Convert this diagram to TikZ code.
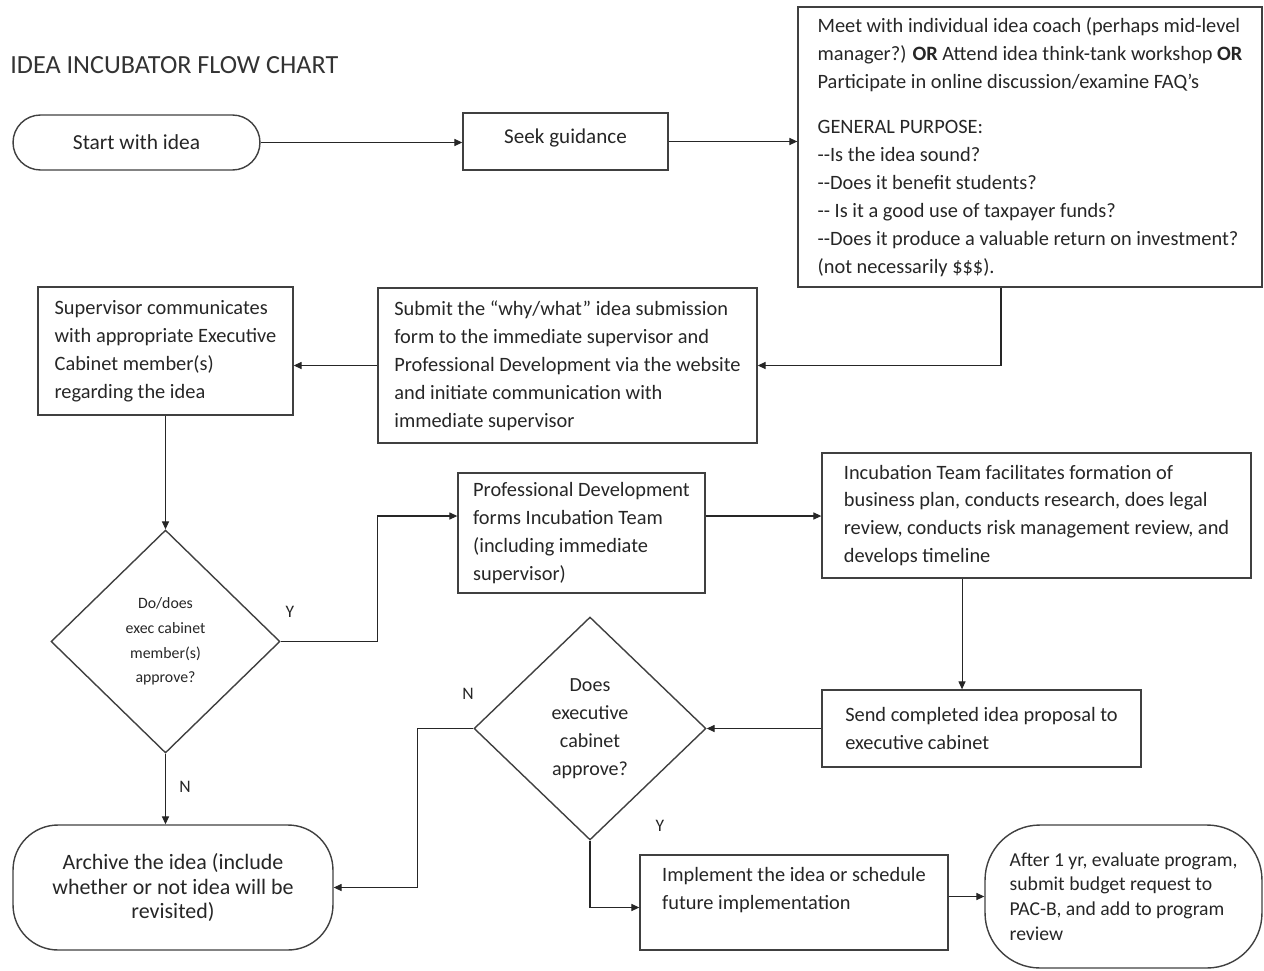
\documentclass[tikz,border=0pt]{standalone}
\usepackage{fontspec}
\setmainfont{Carlito}
\usetikzlibrary{shapes.geometric,arrows.meta}
\begin{document}
\begin{tikzpicture}[x=0.02cm,y=-0.02cm,
  base/.style={draw=black!75, line width=0.8pt, inner sep=0pt, text=black!85},
  box/.style={base, rectangle, align=left, font=\fontsize{11.6}{15.9}\selectfont},
  term/.style={base, rectangle, align=center, font=\fontsize{12.2}{15.9}\selectfont},
  decision/.style={base, diamond, aspect=1, align=center},
  lbl/.style={inner sep=0pt, text=black!85, font=\fontsize{10}{12}\selectfont},
  arr/.style={draw=black!85, line width=0.6pt, -{Triangle[length=4.5pt,width=4pt]}}
]
\useasboundingbox (0,0) rectangle (1264,970);

\node[anchor=west, inner sep=0pt, text=black!80, font=\fontsize{14.9}{18}\selectfont] (title) at (10,65) {IDEA INCUBATOR FLOW CHART};

\node[term, minimum width=4.94cm, minimum height=1.1cm, rounded corners=0.55cm] (start) at (136.5,142.5) {Start with idea};

\node[box, minimum width=4.1cm, minimum height=1.14cm, font=\fontsize{12}{15.9}\selectfont] (seek) at (565.5,141.5) {Seek guidance\\[-10pt]\mbox{}};

\node[box, minimum width=9.28cm, minimum height=5.6cm] (big) at (1030,147) {Meet with individual idea coach (perhaps mid-level\\ manager?) \textbf{OR} Attend idea think-tank workshop \textbf{OR}\\ Participate in online discussion/examine FAQ’s\\[10pt] GENERAL PURPOSE:\\ -{}-Is the idea sound?\\ -{}-Does it benefit students?\\ -{}- Is it a good use of taxpayer funds?\\ -{}-Does it produce a valuable return on investment?\\ (not necessarily \$\$\$).};

\node[box, minimum width=7.58cm, minimum height=3.1cm] (submit) at (567.5,365.5) {Submit the “why/what” idea submission\\ form to the immediate supervisor and\\ Professional Development via the website\\ and initiate communication with\\ immediate supervisor};

\node[box, minimum width=5.1cm, minimum height=2.56cm] (sup) at (165.5,351) {Supervisor communicates\\ with appropriate Executive\\ Cabinet member(s)\\ regarding the idea};

\node[decision, minimum width=4.58cm, minimum height=4.46cm, font=\fontsize{9}{14}\selectfont] (d1) at (165.5,641.5) {Do/does\\ exec cabinet\\ member(s)\\ approve?};

\node[box, minimum width=4.94cm, minimum height=2.4cm] (pd) at (581.5,533) {Professional Development\\ forms Incubation Team\\ (including immediate\\ supervisor)};

\node[box, minimum width=8.58cm, minimum height=2.5cm] (inc) at (1036.5,515.5) {Incubation Team facilitates formation of\\ business plan, conducts research, does legal\\ review, conducts risk management review, and\\ develops timeline};

\node[box, minimum width=6.38cm, minimum height=1.54cm] (send) at (981.5,728.5) {Send completed idea proposal to\\ executive cabinet};

\node[decision, minimum width=4.64cm, minimum height=4.46cm, font=\fontsize{11.4}{15.9}\selectfont] (d2) at (590,728.5) {Does\\ executive\\ cabinet\\ approve?};

\node[term, minimum width=6.4cm, minimum height=2.5cm, rounded corners=0.9cm, font=\fontsize{12.5}{14.2}\selectfont] (archive) at (173,887.5) {Archive the idea (include\\ whether or not idea will be\\ revisited)};

\node[box, minimum width=6.16cm, minimum height=1.9cm] (impl) at (794,902.5) {Implement the idea or schedule\\ future implementation\\ \mbox{}};

\node[base, rectangle, align=left, minimum width=5.54cm, minimum height=2.86cm, rounded corners=1.1cm, font=\fontsize{11.2}{14}\selectfont] (after) at (1123.5,896.5) {After 1 yr, evaluate program,\\ submit budget request to\\ PAC-B, and add to program\\ review};

\node[lbl] (y1) at (290,612) {Y};
\node[lbl] (n1) at (185,787) {N};
\node[lbl] (n2) at (468,694) {N};
\node[lbl] (y2) at (660,826) {Y};

\draw[arr] (start.east) -- (start.east -| seek.west);
\draw[arr] (seek.east) -- (seek.east -| big.west);
\draw[arr] ([xshift=-0.58cm]big.south) |- (submit.east);
\draw[arr] (submit.west) -- (submit.west -| sup.east);
\draw[arr] (sup.south) -- (d1.north);
\draw[arr] (d1.east) -- ++(1.94cm,0) |- ([yshift=0.34cm]pd.west);
\draw[arr] ([yshift=0.34cm]pd.east) -- ([yshift=0.34cm]pd.east -| inc.west);
\draw[arr] ([xshift=-1.49cm]inc.south) -- ([xshift=-1.49cm]inc.south |- send.north);
\draw[arr] (send.west) -- (d2.east);
\draw[arr] (d2.west) -- ++(-1.12cm,0) |- (archive.east);
\draw[arr] (d2.south) |- ([yshift=-0.1cm]impl.west);
\draw[arr] (after.west -| impl.east) -- (after.west);
\draw[arr] (d1.south) -- (d1.south |- archive.north);
\end{tikzpicture}
\end{document}
